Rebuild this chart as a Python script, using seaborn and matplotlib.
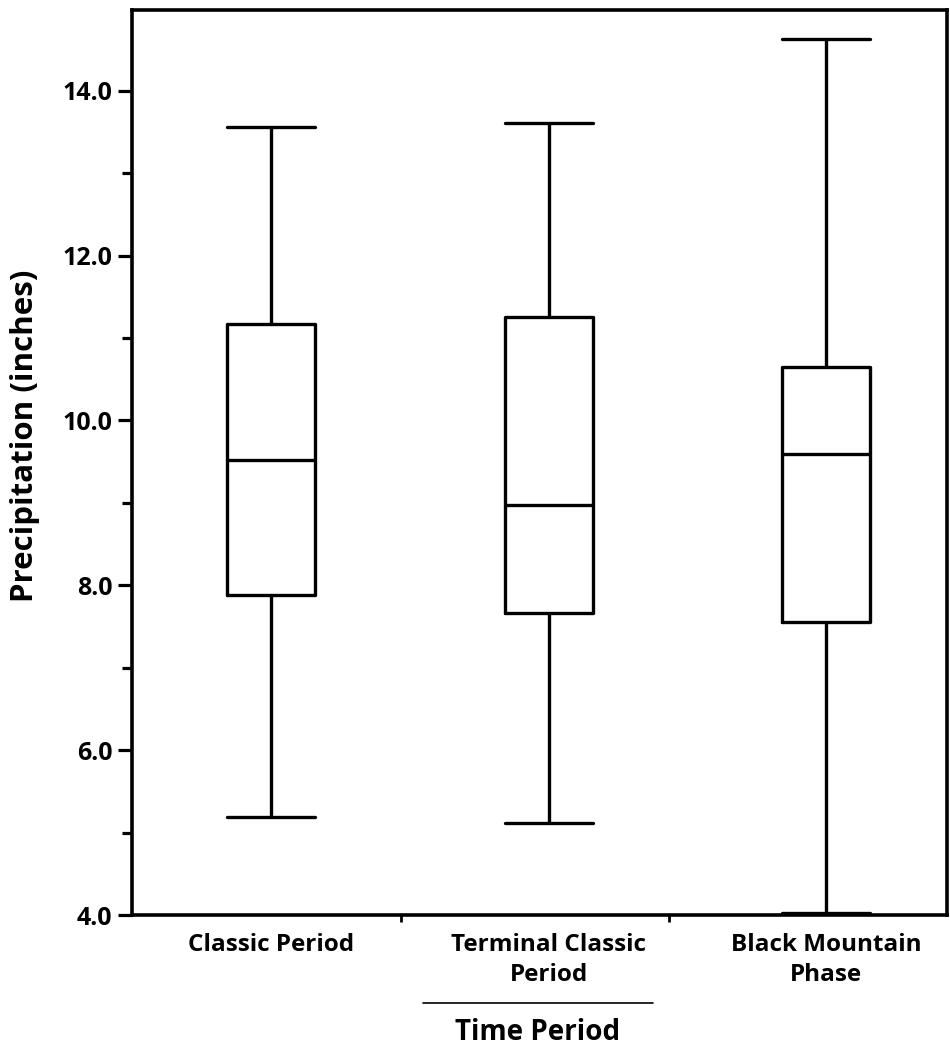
import numpy as np
import pandas as pd
import seaborn as sns
import matplotlib
matplotlib.use("Agg")
import matplotlib.pyplot as plt
from matplotlib.lines import Line2D
from matplotlib.ticker import MultipleLocator, FixedLocator

# Five-number summaries (min, Q1, median, Q3, max)
categories = ["Classic Period", "Terminal Classic\nPeriod", "Black Mountain\nPhase"]
classic = [5.19, 7.88, 9.52, 11.17, 13.56]
terminal = [5.12, 7.67, 8.98, 11.25, 13.61]
black_mountain = [4.03, 7.56, 9.59, 10.65, 14.63]
y_ticks = [4.0, 6.0, 8.0, 10.0, 12.0, 14.0]

df = pd.DataFrame({
    "period": np.repeat(categories, 5),
    "precip": classic + terminal + black_mountain,
})

sns.set_theme(style="ticks")
plt.rcParams["font.family"] = ["Open Sans", "DejaVu Sans"]
plt.rcParams["font.weight"] = "bold"
plt.rcParams["text.color"] = "black"
plt.rcParams["axes.labelcolor"] = "black"
plt.rcParams["xtick.color"] = "black"
plt.rcParams["ytick.color"] = "black"

fig = plt.figure(figsize=(9.5, 10.52), dpi=100)
ax = fig.add_axes([0.139, 0.1302, 0.858, 0.8603])

lw = 2.4
sns.boxplot(data=df, x="period", y="precip", order=categories, whis=(0, 100),
            width=0.317, fill=False, color="black", linewidth=lw,
            linecolor="black", ax=ax,
            capprops=dict(linewidth=lw), whiskerprops=dict(linewidth=lw),
            medianprops=dict(linewidth=lw, color="black"),
            boxprops=dict(linewidth=lw))
# make caps full box width
for line in ax.lines:
    xd = line.get_xdata()
    if len(xd) == 2 and xd[0] != xd[1]:
        c = (xd[0] + xd[1]) / 2
        line.set_xdata([c - 0.1585, c + 0.1585])

ax.set_xlim(-0.5, 2.435)
ax.set_ylim(4.0, 14.98)
ax.set_yticks(y_ticks)
ax.set_yticklabels([f"{v:.1f}" for v in y_ticks], color="black")
ax.yaxis.set_minor_locator(MultipleLocator(1.0))
ax.tick_params(axis="y", which="major", length=10, width=2.3, labelsize=18, pad=4,
               colors="black")
ax.tick_params(axis="y", which="minor", length=7, width=2.3, colors="black")
ax.set_xticks([0, 1, 2])
ax.set_xticklabels(categories, fontsize=17.5, fontweight="bold", linespacing=1.35,
                   color="black")
ax.xaxis.set_minor_locator(FixedLocator([0.47, 1.435]))
ax.tick_params(axis="x", which="major", length=0, pad=13)
ax.tick_params(axis="x", which="minor", length=5, width=2.0, colors="black")

for s in ax.spines.values():
    s.set_linewidth(2.6)
    s.set_color("black")

ax.set_ylabel("Precipitation (inches)", fontsize=22.5, fontweight="bold",
              color="black")
ax.yaxis.set_label_coords(-0.113, 0.53)
ax.set_xlabel("")
fig.text(0.566, 0.019, "Time Period", ha="center", va="center", fontsize=20,
         fontweight="bold", color="black")
fig.add_artist(Line2D([423 / 950, 653 / 950], [1 - 1003 / 1052] * 2, color="black",
                      linewidth=1.2))

fig.savefig("out.png", dpi=100)
